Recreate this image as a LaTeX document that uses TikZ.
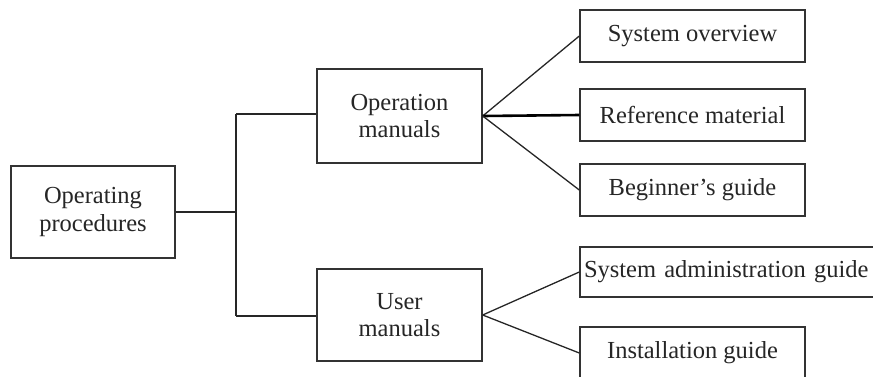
\documentclass[tikz,border=0pt]{standalone}
\usepackage{fontspec}
\setmainfont{Liberation Serif}
\begin{document}
\begin{tikzpicture}[x=1pt,y=-1pt,
  box/.style={draw=black!80, line width=1.4pt, align=center, inner sep=0pt,
    font=\fontsize{24.5}{27.5}\selectfont, text=black!85},
  conn/.style={draw=black!85, line width=1.3pt},
  thick conn/.style={draw=black, line width=2.6pt}]
\useasboundingbox (0,0) rectangle (873,376);
\node[box, minimum width=164pt, minimum height=92pt] (op) at (93,212) {Operating\\procedures};
\node[box, minimum width=165pt, minimum height=94pt] (om) at (399.5,116) {Operation\\manuals};
\node[box, minimum width=165pt, minimum height=92pt] (um) at (399.5,315) {User\\manuals};
\node[box, minimum width=225pt, minimum height=52pt] (so) at (692.5,36) {System overview};
\node[box, minimum width=225pt, minimum height=52pt] (rm) at (692.5,115) {Reference material};
\node[box, minimum width=225pt, minimum height=52pt] (bg) at (692.5,190) {Beginner’s guide};
\node[box, minimum width=320pt, minimum height=50pt, text width=312pt, align=left] (sa) at (740,272) {System administration guide};
\node[box, minimum width=225pt, minimum height=52pt] (ig) at (692.5,353) {Installation guide};
\coordinate (bus) at (236,212);
\coordinate (bt) at (236,114);
\coordinate (bb) at (236,316);
\draw[conn] (op.east) -- (bus);
\draw[conn] (bt) -- (bb);
\draw[conn] (bt) -- (bt -| om.west);
\draw[conn] (bb) -- (bb -| um.west);
\draw[conn] (om.east) -- (so.west);
\draw[thick conn] (om.east) -- (rm.west);
\draw[conn] (om.east) -- (bg.west);
\draw[conn] (um.east) -- (sa.west);
\draw[conn] (um.east) -- (ig.west);
\end{tikzpicture}
\end{document}
